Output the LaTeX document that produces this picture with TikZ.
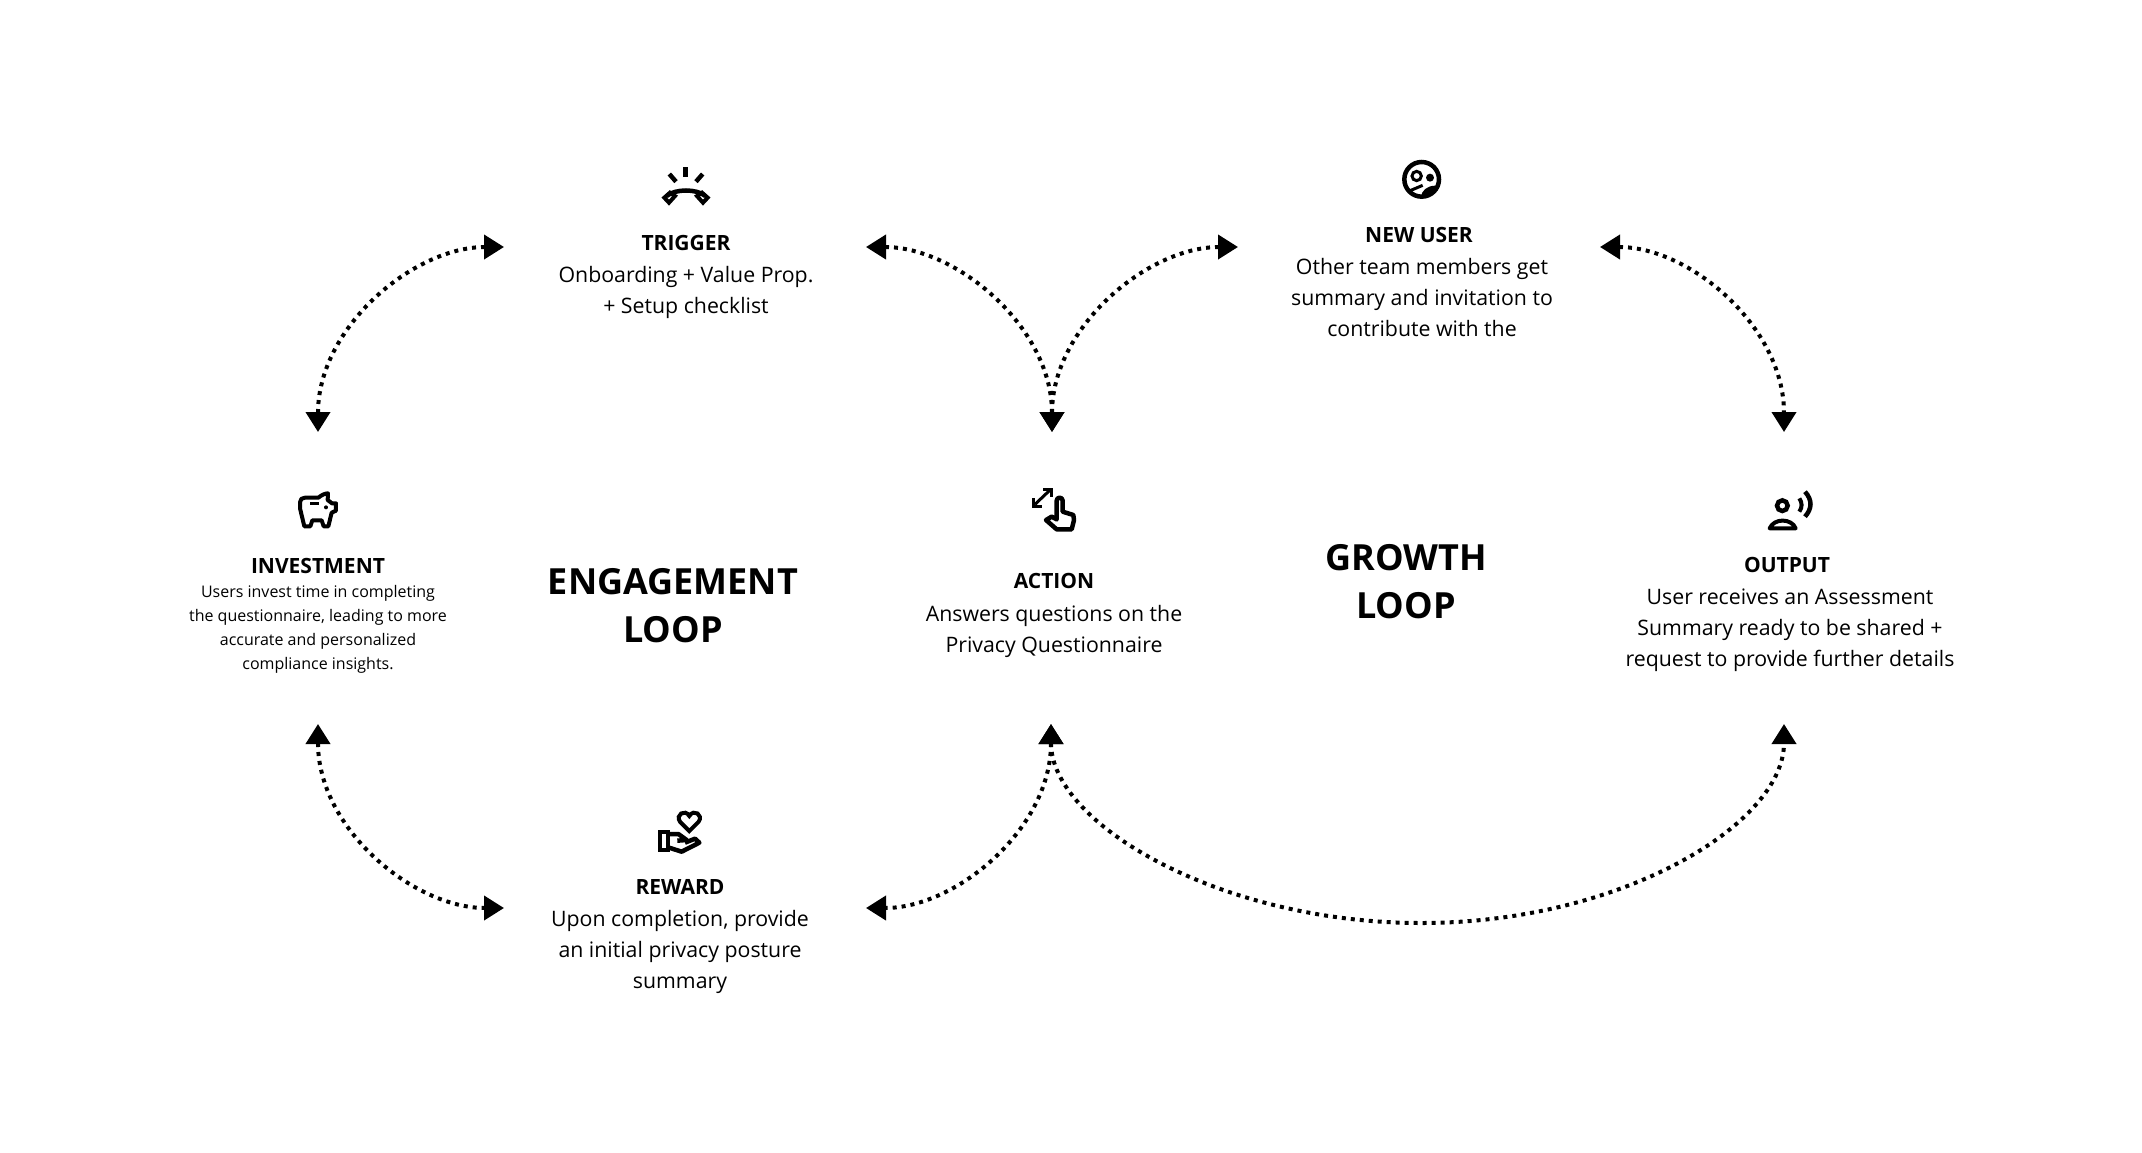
\documentclass[tikz,border=0pt]{standalone}
\usepackage{fontspec}
\setmainfont{Open Sans}
\usepackage{tikz}
\usetikzlibrary{arrows.meta, positioning}

\begin{document}
\begin{tikzpicture}[
                x=1pt, y=-1pt,
                title/.style={font=\fontsize{21}{26}\selectfont\bfseries, inner sep=0pt},
                body/.style={font=\fontsize{21.3}{31}\selectfont, align=center, inner sep=0pt},
                bodysmall/.style={font=\fontsize{16}{24}\selectfont, align=center, inner sep=0pt},
                loopname/.style={font=\fontsize{36}{48}\selectfont\bfseries, align=center, inner sep=0pt},
                edge/.style={{Triangle[length=20pt,width=24pt]}-{Triangle[length=20pt,width=24pt]}, line width=4pt, dash pattern=on 4pt off 5pt},
                icon/.style={line width=4.5pt, line join=miter},
                iconbox/.style={shift={(#1)}, x=0.3333pt, y=-0.3333pt}
            ]
            \useasboundingbox (0,0) rectangle (2142,1152);

            % end points of the loops
            \coordinate (investN) at (318,432);
            \coordinate (investS) at (318,724);
            \coordinate (triggerW) at (504,247);
            \coordinate (triggerE) at (866,247);
            \coordinate (newuserW) at (1238,247);
            \coordinate (newuserE) at (1600,247);
            \coordinate (actionN) at (1052,432);
            \coordinate (actionS) at (1051,724);
            \coordinate (outputN) at (1784,432);
            \coordinate (outputS) at (1784,724);
            \coordinate (rewardW) at (504,908);
            \coordinate (rewardE) at (866,908);
            \coordinate (growthS) at (1421,923);

            % texts
            \node[title] (trigger) at (686,243) {TRIGGER};
            \node[body] (triggerText) at (686,292) {Onboarding + Value Prop.\\+ Setup checklist};
            \node[title] (newuser) at (1419,235) {NEW USER};
            \node[body] (newuserText) at (1422,298) {Other team members get\\summary and invitation to\\contribute with the};
            \node[title] (invest) at (318,566) {INVESTMENT};
            \node[bodysmall] (investText) at (318,629) {Users invest time in completing\\the questionnaire, leading to more\\accurate and personalized\\compliance insights.};
            \node[title] (action) at (1054,581) {ACTION};
            \node[body] (actionText) at (1054,631) {Answers questions on the\\Privacy Questionnaire};
            \node[title] (output) at (1787,565) {OUTPUT};
            \node[body] (outputText) at (1790,630) {User receives an Assessment\\Summary ready to be shared +\\request to provide further details};
            \node[title] (reward) at (680,887) {REWARD};
            \node[body] (rewardText) at (680,952) {Upon completion, provide\\an initial privacy posture\\summary};
            \node[loopname] (engagement) at (673,606) {ENGAGEMENT\\LOOP};
            \node[loopname] (growth) at (1406,582) {GROWTH\\LOOP};

            % loops
            \draw[edge] (investN) .. controls +(0,-105) and +(-90,0) .. (triggerW);
            \draw[edge] (triggerE) .. controls +(90,0) and +(0,-105) .. (actionN);
            \draw[edge] (newuserW) .. controls +(-90,0) and +(0,-105) .. (actionN);
            \draw[edge] (newuserE) .. controls +(90,0) and +(0,-105) .. (outputN);
            \draw[edge] (investS) .. controls +(0,105) and +(-90,0) .. (rewardW);
            \draw[edge] (actionS) .. controls +(0,105) and +(90,0) .. (rewardE);
            \draw[edge] (actionS) .. controls +(0,100) and +(-200,0) .. (growthS) .. controls +(200,0) and +(0,100) .. (outputS);

            % trigger icon
            \begin{scope}[iconbox={620,140}]
                \draw[icon] (197,82) -- (197,110);
                \draw[icon] (148,102) -- (168,125);
                \draw[icon] (248,102) -- (228,125);
                \draw[icon] (140,168) .. controls (165,146) and (231,146) .. (256,168);
                \draw[line width=4pt] (133,173) -- (147,188) -- (165,168) -- (150,158) -- cycle;
                \draw[line width=4pt] (263,173) -- (249,188) -- (231,168) -- (246,158) -- cycle;
            \end{scope}

            % new user icon
            \begin{scope}[iconbox={1370,140}]
                \draw[line width=4.5pt] (155,118) circle (52);
                \draw[line width=3pt] (140,108) circle (14);
                \fill (180,113) circle (12);
                \begin{scope}
                    \clip (155,118) circle (52);
                    \fill (195,172) ellipse (42 and 35);
                \end{scope}
                \draw[line width=3pt] (118,153) -- (158,136);
            \end{scope}

            % investment icon
            \begin{scope}[iconbox={280,470}]
                \draw[line width=4pt, line join=round] (73,169) -- (60,115) -- (60,97) .. controls (60,88) and (66,83) .. (75,83)
                    -- (115,83) .. controls (125,75) and (135,70) .. (144,70) -- (143,90) -- (156,100) -- (168,100)
                    -- (168,122) -- (155,128) -- (145,169) -- (131,169) -- (125,151) -- (97,151) -- (91,169) -- cycle;
                \draw[line width=3pt] (90,100) -- (118,100);
                \fill (138,112) circle (6);
            \end{scope}

            % action icon
            \begin{scope}[iconbox={1010,470}]
                \draw[line width=3pt] (75,103) -- (118,62);
                \draw[line width=3pt] (100,58) -- (125,58) -- (125,82);
                \draw[line width=3pt] (70,85) -- (70,110) -- (95,110);
                \draw[icon, line join=round] (140,148) -- (140,92) .. controls (140,80) and (158,80) .. (158,92) -- (158,125)
                    -- (190,135) -- (192,150) -- (185,178) -- (140,178) -- (108,150) -- (125,140) -- cycle;
            \end{scope}

            % output icon
            \begin{scope}[iconbox={1750,480}]
                \draw[icon] (97,77) circle (16);
                \draw[line width=4pt, line join=round] (59,145) .. controls (72,114) and (124,114) .. (137,145) -- cycle;
                \draw[line width=4pt] (148,55) .. controls (157,68) and (157,82) .. (148,95);
                \draw[icon] (165,35) .. controls (187,60) and (187,85) .. (165,110);
            \end{scope}

            % reward icon
            \begin{scope}[iconbox={640,800}]
                \draw[line width=4pt] (148,93) -- (120,65) .. controls (105,45) and (135,25) .. (148,48)
                    .. controls (161,25) and (191,45) .. (176,65) -- cycle;
                \draw[icon] (60,96) rectangle (84,150);
                \draw[icon, line join=round] (84,102) -- (115,102) -- (140,120) -- (112,122)
                    (84,142) -- (125,155) -- (178,128) -- (165,116) -- (135,128);
            \end{scope}
            \end{tikzpicture}
\end{document}
